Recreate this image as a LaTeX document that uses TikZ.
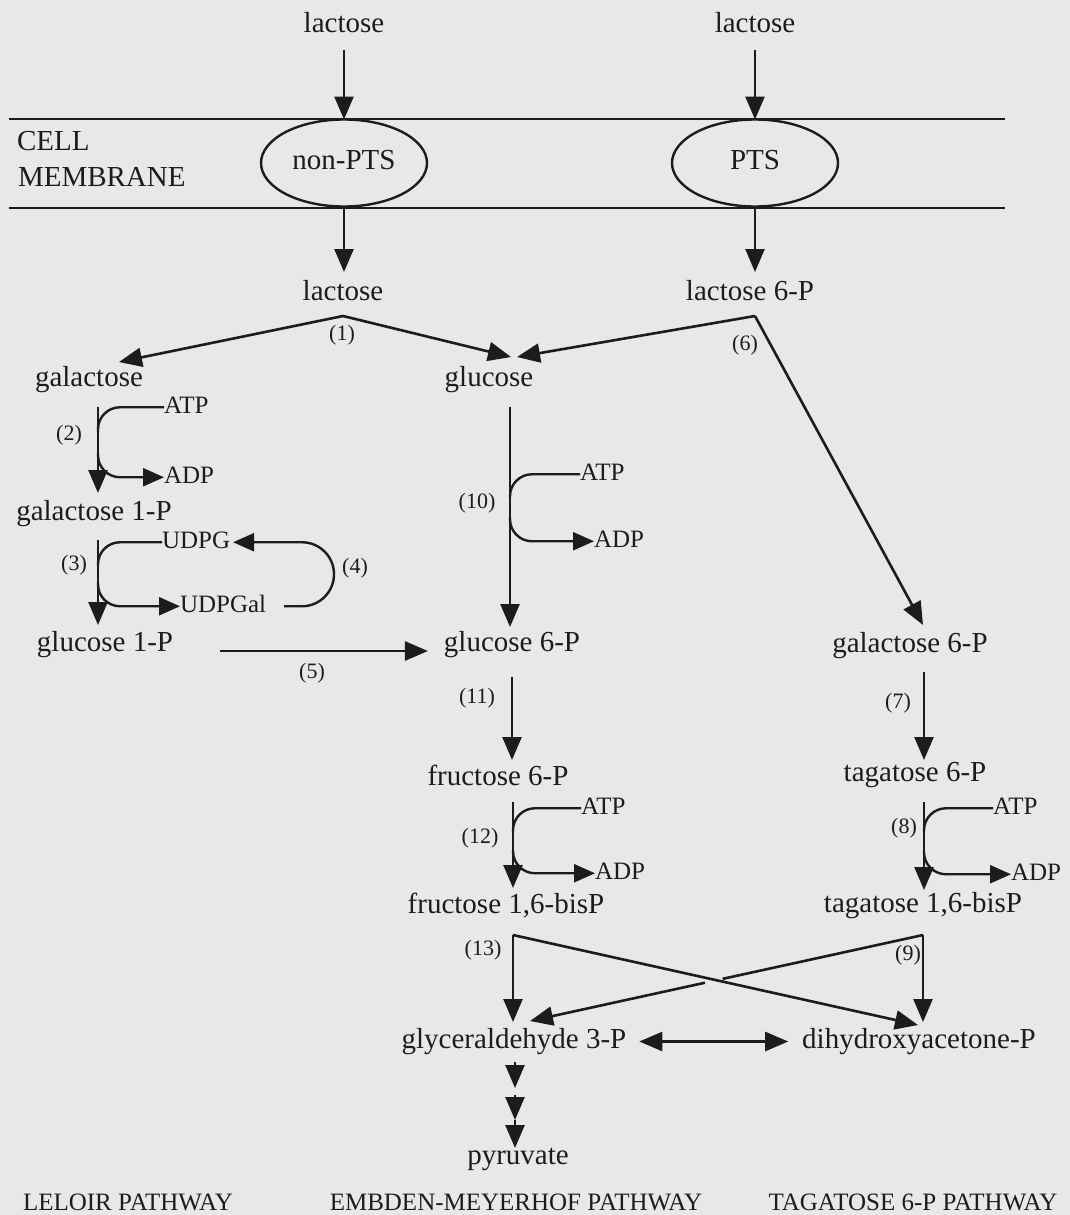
\documentclass[tikz,border=0pt]{standalone}
\usepackage{fontspec}
\setmainfont{Liberation Serif}
\usetikzlibrary{arrows.meta,shapes.geometric,calc}
\definecolor{bg}{RGB}{232,232,232}
\definecolor{ink}{RGB}{28,28,28}
\begin{document}
\begin{tikzpicture}[x=1pt,y=-1pt,
  every node/.style={inner sep=0pt, outer sep=0pt, text=ink},
  lbl/.style={font=\fontsize{29}{33}\selectfont, text height=20pt, text depth=7pt, anchor=base},
  sml/.style={font=\fontsize{25}{28}\selectfont, text height=17.5pt, text depth=6pt, anchor=base west},
  num/.style={font=\fontsize{22}{25}\selectfont, text height=15.5pt, text depth=5pt, anchor=base},
  ttl/.style={font=\fontsize{25}{28}\selectfont, anchor=base},
  membr/.style={draw=ink, ellipse, line width=2.4pt, minimum width=166pt, minimum height=87pt,
    font=\fontsize{29}{33}\selectfont, text height=20pt, text depth=7pt},
  ln/.style={draw=ink, line width=2.6pt},
  arr/.style={ln, -{Triangle[length=23pt,width=19pt]}},
  cv/.style={draw=ink, line width=2.4pt, rounded corners=22pt},
  cva/.style={cv, -{Triangle[length=21pt,width=18pt]}},
]
\useasboundingbox (0,0) rectangle (1070,1215);
\fill[bg] (0,0) rectangle (1070,1215);

% membrane
\coordinate (mL1) at (9,119);  \coordinate (mR1) at (1005,119);
\coordinate (mL2) at (9,208);  \coordinate (mR2) at (1005,208);
\draw[ln, line width=2.4pt] (mL1) -- (mR1);
\draw[ln, line width=2.4pt] (mL2) -- (mR2);

% main nodes
\node[lbl] (lacA) at (344,33) {lactose};
\node[lbl] (lacD) at (755,33) {lactose};
\node[membr] (nonpts) at (344,163) {non-PTS};
\node[membr] (pts) at (755,163) {PTS};
\node[lbl, anchor=base west] (cell) at (17,150) {CELL};
\node[lbl, anchor=base west] (memb) at (18,186) {MEMBRANE};
\node[lbl] (lacB) at (343,300) {lactose};
\node[lbl] (lac6P) at (750,300) {lactose 6-P};
\node[lbl] (gal) at (89,386) {galactose};
\node[lbl] (glc) at (489,386) {glucose};
\node[lbl] (gal1P) at (94,520) {galactose 1-P};
\node[lbl] (glc1P) at (105,651) {glucose 1-P};
\node[lbl] (glc6P) at (512,651) {glucose 6-P};
\node[lbl] (gal6P) at (910,652) {galactose 6-P};
\node[lbl] (fru6P) at (498,785) {fructose 6-P};
\node[lbl] (tag6P) at (915,781) {tagatose 6-P};
\node[lbl] (fbp) at (506,913) {fructose 1,6-bisP};
\node[lbl] (tbp) at (923,912) {tagatose 1,6-bisP};
\node[lbl] (g3p) at (514,1048) {glyceraldehyde 3-P};
\node[lbl] (dhap) at (919,1048) {dihydroxyacetone-P};
\node[lbl] (pyr) at (518,1164) {pyruvate};

\node[ttl] (t1) at (128,1210) {LELOIR PATHWAY};
\node[ttl] (t2) at (516,1210) {EMBDEN-MEYERHOF PATHWAY};
\node[ttl] (t3) at (913,1210) {TAGATOSE 6-P PATHWAY};

% cofactors
\node[sml] (atp2) at (164,413) {ATP};
\node[sml] (adp2) at (164,483) {ADP};
\node[sml] (udpg) at (162,548) {UDPG};
\node[sml] (udpgal) at (180,612) {UDPGal};
\node[sml] (atp10) at (580,480) {ATP};
\node[sml] (adp10) at (594,547) {ADP};
\node[sml] (atp12) at (581,814) {ATP};
\node[sml] (adp12) at (595,879) {ADP};
\node[sml] (atp8) at (993,814) {ATP};
\node[sml] (adp8) at (1011,880) {ADP};

% step numbers
\node[num] (n1) at (342,340) {(1)};
\node[num] (n2) at (69,440) {(2)};
\node[num] (n3) at (74,570) {(3)};
\node[num] (n4) at (355,573) {(4)};
\node[num] (n5) at (312,678) {(5)};
\node[num] (n6) at (745,350) {(6)};
\node[num] (n7) at (898,708) {(7)};
\node[num] (n8) at (904,833) {(8)};
\node[num] (n9) at (908,960) {(9)};
\node[num] (n10) at (477,508) {(10)};
\node[num] (n11) at (477,703) {(11)};
\node[num] (n12) at (480,843) {(12)};
\node[num] (n13) at (483,955) {(13)};

% transport
\draw[arr, shorten <=10pt] (lacA.south) -- (nonpts.north);
\draw[arr, shorten >=8pt] (nonpts.south) -- (nonpts.south |- lacB.north);
\draw[arr, shorten <=10pt] (lacD.south) -- (pts.north);
\draw[arr, shorten >=8pt] (pts.south) -- (pts.south |- lac6P.north);

% (1)
\coordinate (ap1) at ($(lacB.south)+(0,9)$);
\draw[arr] (ap1) -- ($(gal.north)+(30,-4)$);
\draw[arr] (ap1) -- ($(glc.north)+(22,-9)$);
% (6)
\coordinate (ap6) at ($(pts.south |- lac6P.south)+(0,9)$);
\draw[arr] (ap6) -- ($(glc.north)+(28,-9)$);
\draw[arr] (ap6) -- ($(gal6P.north)+(13,-7)$);

% (2)
\coordinate (c2a) at ($(gal.south)+(9,14)$);
\coordinate (c2b) at ($(gal1P.north)+(4,-7)$);
\draw[arr] (c2a) -- (c2b);
\draw[cv] ($(c2a)!0.29!(c2b)$) |- (atp2.west);
\draw[cva] ($(c2a)!0.53!(c2b)$) |- (adp2.west);

% (3)
\coordinate (c3a) at ($(gal1P.south)+(4,13)$);
\coordinate (c3b) at ($(glc1P.north)+(-7,-6)$);
\draw[arr] (c3a) -- (c3b);
\draw[cv] ($(c3a)!0.3!(c3b)$) |- (udpg.west);
\draw[cva] ($(c3a)!0.5!(c3b)$) |- (udpgal.west);

% (4)
\coordinate (l4a) at ($(udpgal.east)+(18,0)$);
\coordinate (l4b) at ($(udpg.east)+(3,0)$);
\coordinate (l4x) at (334,0);
\draw[cva, rounded corners=32pt] (l4a) -- (l4a -| l4x) -- (l4b -| l4x) -- (l4b);

% (5)
\draw[arr, shorten <=47pt, shorten >=16pt] (glc1P.base east) -- (glc6P.base west);

% (10)
\coordinate (c10a) at ($(glc.south)+(21,14)$);
\coordinate (c10b) at ($(glc6P.north)+(-2,-4)$);
\draw[arr] (c10a) -- (c10b);
\draw[cv] ($(c10a)!0.41!(c10b)$) |- (atp10.west);
\draw[cva] ($(c10a)!0.5!(c10b)$) |- (adp10.west);

% (11)
\draw[arr] ($(glc6P.south)+(0,19)$) -- ($(fru6P.north)+(14,-5)$);

% (12)
\coordinate (c12a) at ($(fru6P.south)+(15,10)$);
\coordinate (c12b) at ($(fbp.north)+(7,-5)$);
\draw[arr] (c12a) -- (c12b);
\draw[cv] ($(c12a)!0.35!(c12b)$) |- (atp12.west);
\draw[cva] ($(c12a)!0.56!(c12b)$) |- (adp12.west);

% (7)
\draw[arr] ($(gal6P.south)+(14,13)$) -- ($(tag6P.north)+(9,-1)$);

% (8)
\coordinate (c8a) at ($(tag6P.south)+(9,14)$);
\coordinate (c8b) at ($(tbp.north)+(1,-2)$);
\draw[arr] (c8a) -- (c8b);
\draw[cv] ($(c8a)!0.34!(c8b)$) |- (atp8.west);
\draw[cva] ($(c8a)!0.56!(c8b)$) |- (adp8.west);

% (13) and (9)
\coordinate (ap13) at ($(fbp.south)+(7,15)$);
\coordinate (ap9) at ($(tbp.south)+(0,16)$);
\draw[arr] (ap13) -- ($(g3p.north)+(-1,-6)$);
\draw[arr] (ap13) -- ($(dhap.north)+(-1,-3)$);
\draw[arr] (ap9) -- ($(dhap.north)+(4,-6)$);
\coordinate (t9) at ($(g3p.north)+(16,-7)$);
\draw[ln] (ap9) -- ($(ap9)!0.51!(t9)$);
\draw[arr] ($(ap9)!0.555!(t9)$) -- (t9);

% triose isomerase
\draw[ln, {Triangle[length=23pt,width=19pt]}-{Triangle[length=23pt,width=19pt]}, shorten <=13pt, shorten >=14pt] (g3p.east) -- (dhap.west);

% to pyruvate
\coordinate (p1) at ($(g3p.south)+(1,7)$);
\coordinate (p2) at ($(g3p.south)+(1,33)$);
\coordinate (p3) at ($(g3p.south)+(1,40)$);
\coordinate (p4) at ($(g3p.south)+(1,65)$);
\draw[arr] (p1) -- (p2);
\draw[arr] (p3) -- (p4);
\draw[arr] (p4) -- ($(pyr.north)+(-3,4)$);
\end{tikzpicture}
\end{document}
